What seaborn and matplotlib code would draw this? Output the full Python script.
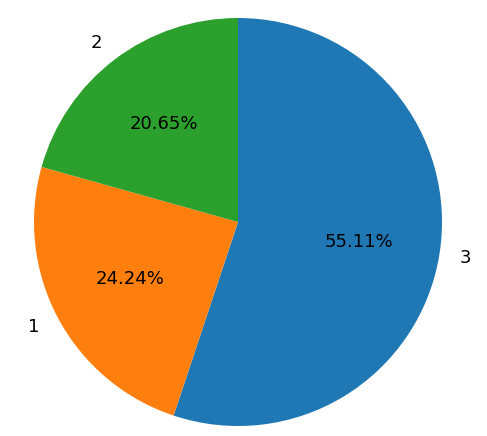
import matplotlib
matplotlib.use("Agg")
import matplotlib.pyplot as plt
import seaborn as sns

labels = ["3", "1", "2"]
shares = [55.11, 24.24, 20.65]

colors = sns.color_palette("tab10")[:3]

fig = plt.figure(figsize=(4.87, 4.36), dpi=100)
# pie centre at (238, 222) px from top, radius ~204 px
r = 204
ax = fig.add_axes([(238 - r) / 487, (436 - 222 - r) / 436, 2 * r / 487, 2 * r / 436])
ax.pie(shares, labels=labels, colors=colors, autopct="%.2f%%", startangle=90,
       counterclock=False, textprops={"fontsize": 13, "color": "black"})
ax.set_xlim(-1, 1)
ax.set_ylim(-1, 1)
ax.set_aspect("equal")
fig.savefig("out.png", dpi=100)
